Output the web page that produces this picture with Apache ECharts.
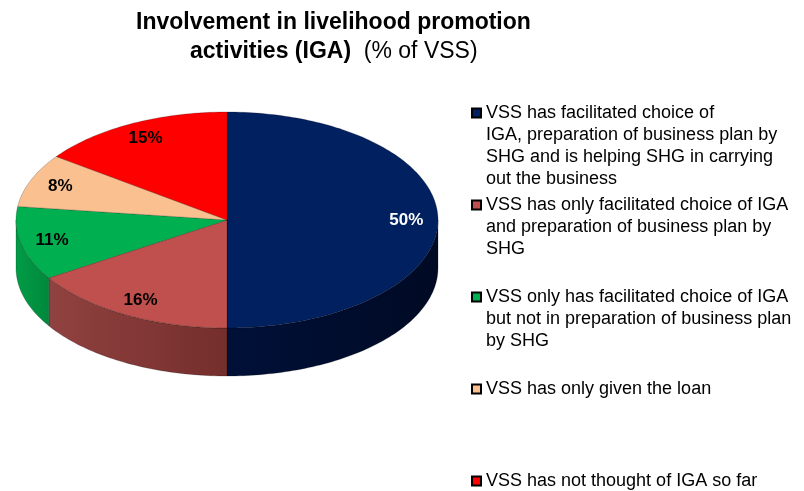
<!DOCTYPE html>
<html>
<head>
    <meta charset="utf-8">
    <title>Involvement in livelihood promotion activities</title>
    <script src="https://cdn.jsdelivr.net/npm/echarts@6/dist/echarts.min.js"></script>
    <style type="text/css">
        body{ margin: 0; background: #fff; }
        #main{ width: 804px; height: 491px; }
    </style>
</head>
<body>
<div id="main"></div>
<script>
    // slice labels (line breaks as in the legend of the picture)
    var categories = [
        "VSS has facilitated choice of\nIGA, preparation of business plan by\nSHG and is helping SHG in carrying\nout the business",
        "VSS has only facilitated choice of IGA\nand preparation of business plan by\nSHG",
        "VSS only has facilitated choice of IGA\nbut not in preparation of business plan\nby SHG",
        "VSS has only given the loan",
        "VSS has not thought of IGA so far"
    ];
    var values = [50, 16, 11, 8, 15];
    var topColors = ["#002060", "#c0504d", "#00b050", "#fac090", "#ff0000"];
    var sideColors = [["#001038", "#000a24"], ["#904240", "#742e2c"], ["#009c46", "#00883c"], ["#e0a878", "#c89060"], ["#d00000", "#a00000"]];
    var labelColors = ["#fff", "#000", "#000", "#000", "#000"];

    var total = values.reduce(function (s, v) { return s + v; }, 0);
    var starts = [];
    var acc = 0;
    values.forEach(function (v) { starts.push(acc); acc += v; });

    var TAU = Math.PI * 2;
    var depth = 48;

    function arcPts(api, a, b, dy) {
        var pts = [];
        var n = Math.max(2, Math.ceil((b - a) / 0.02));
        for (var k = 0; k <= n; k++) {
            var t = a + (b - a) * k / n;
            var p = api.coord([Math.sin(t), Math.cos(t)]);
            pts.push([p[0], p[1] + dy]);
        }
        return pts;
    }

    function makeRender(i) {
        return function (params, api) {
            var a = starts[i] / total * TAU;
            var b = (starts[i] + values[i]) / total * TAU;
            var children = [];
            var s0 = Math.max(a, Math.PI / 2), s1 = Math.min(b, Math.PI * 1.5);
            if (s1 > s0) {
                var up = arcPts(api, s0, s1, 0);
                var down = arcPts(api, s0, s1, depth).reverse();
                children.push({
                    type: 'polygon',
                    shape: { points: up.concat(down) },
                    style: {
                        fill: new echarts.graphic.LinearGradient(0, 0, 1, 0, [
                            { offset: 0, color: sideColors[i][0] },
                            { offset: 1, color: sideColors[i][1] }
                        ]),
                        stroke: 'rgba(0,0,0,0.35)',
                        lineWidth: 0.6
                    }
                });
            }
            var c = api.coord([0, 0]);
            children.push({
                type: 'polygon',
                shape: { points: [c].concat(arcPts(api, a, b, 0)) },
                style: { fill: topColors[i], stroke: 'rgba(0,0,0,0.35)', lineWidth: 0.6 }
            });
            var m = (a + b) / 2;
            var lp = api.coord([0.85 * Math.sin(m), 0.85 * Math.cos(m)]);
            children.push({
                type: 'text',
                x: lp[0],
                y: lp[1],
                style: {
                    text: values[i] + '%',
                    fill: labelColors[i],
                    font: 'bold 17px "Liberation Sans", Arial, sans-serif',
                    align: 'center',
                    verticalAlign: 'middle'
                }
            });
            return { type: 'group', children: children };
        };
    }

    var series = categories.map(function (name, i) {
        return {
            name: name,
            type: 'custom',
            coordinateSystem: 'cartesian2d',
            clip: false,
            itemStyle: { color: topColors[i], borderColor: '#000', borderWidth: 1 },
            data: [[0, 0]],
            renderItem: makeRender(i)
        };
    });

    var myChart = echarts.init(document.getElementById('main'));
    var option = {
        animation: false,
        title: [{
            text: 'Involvement in livelihood promotion',
            left: 136,
            top: 11,
            padding: 0,
            textStyle: { fontFamily: '"Liberation Sans", Arial', fontSize: 23, fontWeight: 'bold', color: '#000' }
        }, {
            text: '{b|activities (IGA)}{n|  (% of VSS)}',
            left: 190,
            top: 40,
            padding: 0,
            textStyle: {
                rich: {
                    b: { fontFamily: '"Liberation Sans", Arial', fontSize: 23, fontWeight: 'bold', color: '#000' },
                    n: { fontFamily: '"Liberation Sans", Arial', fontSize: 23, fontWeight: 'normal', color: '#000' }
                }
            }
        }],
        legend: {
            orient: 'vertical',
            left: 471,
            top: 36,
            height: 600,
            padding: 0,
            itemWidth: 9,
            itemHeight: 9,
            itemGap: -62,
            icon: 'rect',
            selectedMode: false,
            data: categories,
            formatter: function (name) {
                var lines = name.split('\n');
                while (lines.length < 4) lines.push('');
                return '\n\n\n' + lines.join('\n');
            },
            textStyle: { fontFamily: '"Liberation Sans", Arial', fontSize: 18, lineHeight: 22, color: '#000' }
        },
        grid: { left: 16, width: 422, top: 112, height: 216 },
        xAxis: { type: 'value', min: -1, max: 1, show: false },
        yAxis: { type: 'value', min: -1, max: 1, show: false },
        series: series
    };
    myChart.setOption(option);
</script>
</body>
</html>
